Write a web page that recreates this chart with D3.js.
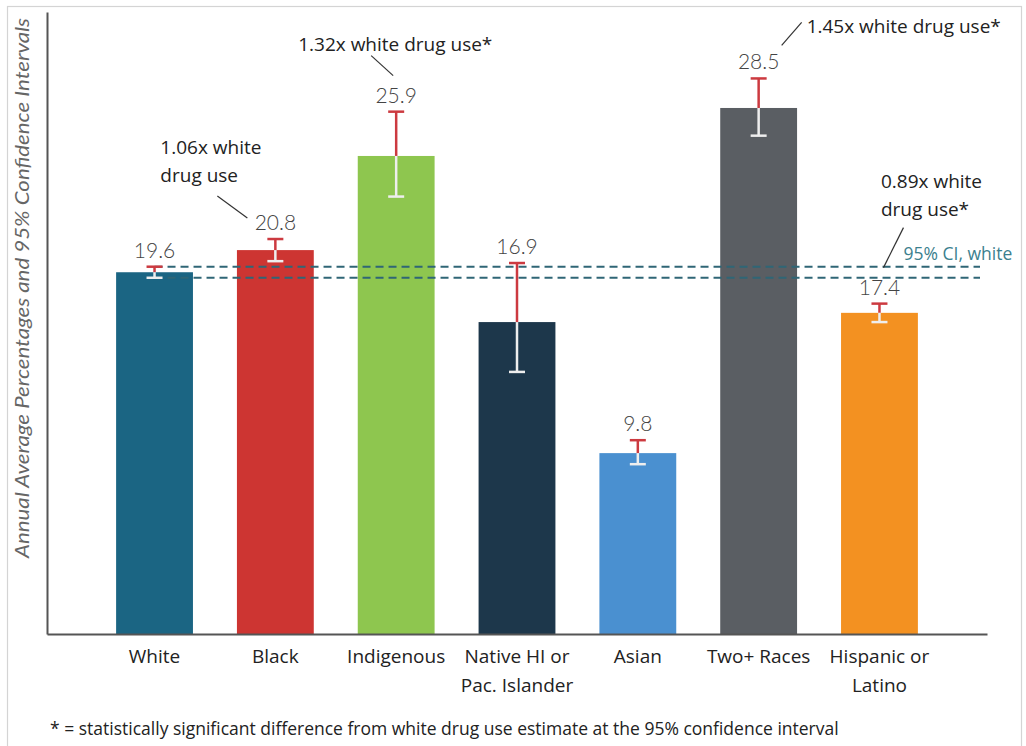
<!DOCTYPE html>
<html>
<head>
<meta charset="utf-8">
<script src="https://cdn.jsdelivr.net/npm/d3@7/dist/d3.min.js"></script>
<style>
  html, body { margin: 0; padding: 0; background: #fff; }
  svg { display: block; }
</style>
</head>
<body>
<svg id="chart" width="1026" height="746"></svg>
<script>
// ---- data ----
const categories = ["White", "Black", "Indigenous", "Native HI or|Pac. Islander", "Asian", "Two+ Races", "Hispanic or|Latino"];
const values = [19.6, 20.8, 25.9, 16.9, 9.8, 28.5, 17.4];
const ciLow = [19.3, 20.2, 23.7, 14.2, 9.2, 27.0, 16.9];
const ciHigh = [19.9, 21.4, 28.3, 20.1, 10.5, 30.1, 17.9];
const barColors = ["#1b6583", "#cd3532", "#8ec64f", "#1d374b", "#4a90d0", "#5a5e63", "#f39121"];
const valueLabels = ["19.6", "20.8", "25.9", "16.9", "9.8", "28.5", "17.4"];
const annotationTexts = [
  ["1.06x white", "drug use"],
  ["1.32x white drug use*"],
  ["1.45x white drug use*"],
  ["0.89x white", "drug use*"]
];
const annotationCats = ["Black", "Indigenous", "Two+ Races", "Hispanic or|Latino"];
const ciLabel = "95% CI, white";
const yTitle = "Annual Average Percentages and 95% Confidence Intervals";
const footnote = "* = statistically significant difference from white drug use estimate at the 95% confidence interval";

(function () {
// ---- layout ----
const svg = d3.select("#chart");
const pLeft = 47, pRight = 987, pTop = 12, pBottom = 634;
const sans = "'Open Sans', sans-serif";

svg.append("rect").attr("x", 7.5).attr("y", 6.5).attr("width", 1014).attr("height", 800)
  .attr("fill", "none").attr("stroke", "#d4d4d4").attr("stroke-width", 1.2);

const x = d3.scaleBand().domain(categories).range([pLeft, pRight]).paddingInner(0.364).paddingOuter(0.572);
const y = d3.scaleLinear().domain([0, 33.7]).range([pBottom, pTop]);
const bw = x.bandwidth();
const cx = c => x(c) + bw / 2;

const data = categories.map((c, i) => ({ c, v: values[i], lo: ciLow[i], hi: ciHigh[i], col: barColors[i], lab: valueLabels[i] }));

// bars
svg.append("g").selectAll("rect").data(data).join("rect")
  .attr("x", d => x(d.c)).attr("width", bw)
  .attr("y", d => y(d.v)).attr("height", d => y(0) - y(d.v))
  .attr("fill", d => d.col);

// dashed CI lines for white
const wx = cx(categories[0]);
[ciHigh[0], ciLow[0]].forEach(v => {
  svg.append("line").attr("x1", wx).attr("x2", 980).attr("y1", y(v)).attr("y2", y(v))
    .attr("stroke", "#2f6676").attr("stroke-width", 2).attr("stroke-dasharray", "8,5");
});

// error bars
const eb = svg.append("g");
data.forEach(d => {
  const c = cx(d.c);
  eb.append("line").attr("x1", c).attr("x2", c).attr("y1", y(d.hi)).attr("y2", y(d.v))
    .attr("stroke", "#cc3a40").attr("stroke-width", 2.5);
  eb.append("line").attr("x1", c - 8).attr("x2", c + 8).attr("y1", y(d.hi)).attr("y2", y(d.hi))
    .attr("stroke", "#cc3a40").attr("stroke-width", 2.5);
  eb.append("line").attr("x1", c).attr("x2", c).attr("y1", y(d.v)).attr("y2", y(d.lo))
    .attr("stroke", "#eeeeee").attr("stroke-width", 2.5);
  eb.append("line").attr("x1", c - 8).attr("x2", c + 8).attr("y1", y(d.lo)).attr("y2", y(d.lo))
    .attr("stroke", "#eeeeee").attr("stroke-width", 2.5);
});

// value labels
svg.append("g").selectAll("text").data(data).join("text")
  .attr("x", d => cx(d.c)).attr("y", d => y(d.hi) - 9)
  .attr("text-anchor", "middle")
  .attr("font-family", "Lato, sans-serif").attr("font-weight", 300).attr("font-size", 21)
  .attr("fill", "#444").text(d => d.lab);

// axes
const gy = svg.append("g").attr("transform", `translate(${pLeft},0)`)
  .call(d3.axisLeft(y).tickValues([]).tickSizeOuter(0));
gy.select(".domain").attr("stroke", "#555").attr("stroke-width", 2);
const gx = svg.append("g").attr("transform", `translate(0,${pBottom})`)
  .call(d3.axisBottom(x).tickSize(0).tickFormat(""));
gx.select(".domain").attr("stroke", "#555").attr("stroke-width", 2);

// category labels
const catG = svg.append("g");
categories.forEach(c => {
  const parts = c.split("|");
  const t = catG.append("text").attr("x", cx(c)).attr("y", 663)
    .attr("text-anchor", "middle").attr("font-family", sans)
    .attr("font-size", 19).attr("fill", "#222");
  parts.forEach((p, i) => t.append("tspan").attr("x", cx(c)).attr("dy", i === 0 ? 0 : 29).text(p));
});

// y title
svg.append("text")
  .attr("transform", `translate(29,${(18 + 558) / 2}) rotate(-90)`)
  .attr("text-anchor", "middle").attr("font-family", "Lato, sans-serif")
  .attr("font-style", "italic").attr("font-weight", 400).attr("font-size", 19)
  .attr("fill", "#666").attr("textLength", 540).attr("lengthAdjust", "spacingAndGlyphs")
  .text(yTitle);

// annotations
const annG = svg.append("g").attr("font-family", sans).attr("font-size", 19).attr("fill", "#222");
const annLayout = [
  { dx: -115, dy: [-85, -57], l: [-58, -43, -28, -21] },
  { dx: -98, dy: [-61], l: [-25, -56, -3, -36] },
  { dx: 48, dy: [-45], l: [23, -33, 43, -56] },
  { dx: 1.5, dy: [-116, -88], l: [24, -76, 4, -36] }
];
annotationTexts.forEach((lines, k) => {
  const i = categories.indexOf(annotationCats[k]);
  const c = cx(categories[i]), yy = y(ciHigh[i]);
  const L = annLayout[k];
  lines.forEach((ln, j) => annG.append("text").attr("x", c + L.dx).attr("y", yy + L.dy[j]).text(ln));
  svg.append("line").attr("x1", c + L.l[0]).attr("y1", yy + L.l[1]).attr("x2", c + L.l[2]).attr("y2", yy + L.l[3])
    .attr("stroke", "#333").attr("stroke-width", 1.2);
});

// CI label
const hi = categories.length - 1;
svg.append("text").attr("x", cx(categories[hi]) + 24).attr("y", y(ciHigh[0]) - 7)
  .attr("font-family", sans).attr("font-size", 17.5).attr("fill", "#3c7f8e").text(ciLabel);

// footnote
svg.append("text").attr("x", 50).attr("y", 735)
  .attr("font-family", sans).attr("font-size", 17.5).attr("fill", "#222").text(footnote);
})();
</script>
</body>
</html>
